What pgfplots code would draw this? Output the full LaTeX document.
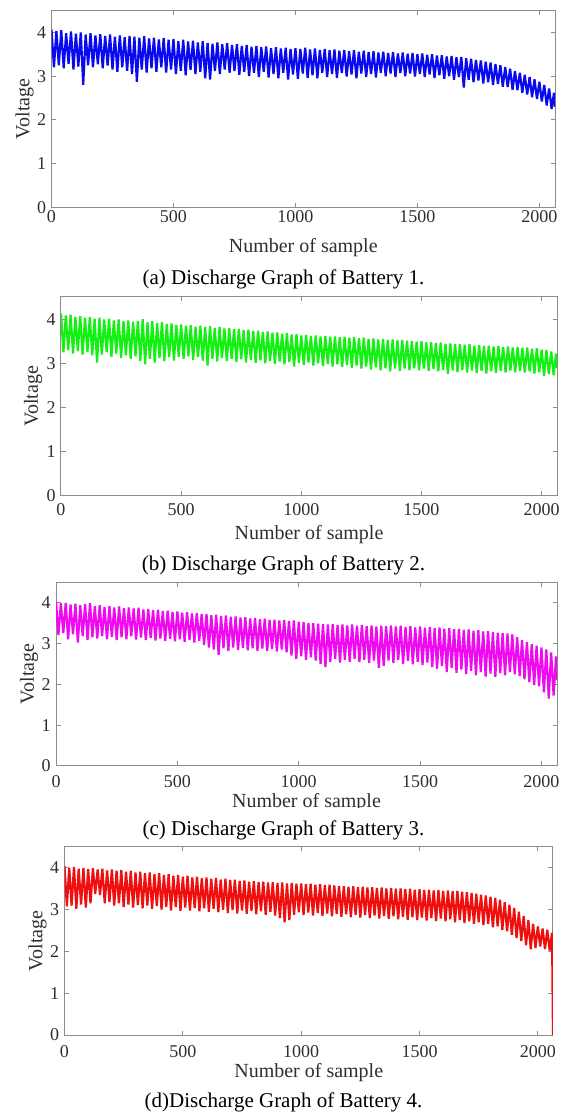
\documentclass[border=0pt]{standalone}
\usepackage{pgfplots}
\pgfplotsset{compat=1.18}
\usepackage{fontspec}
\setmainfont{Liberation Serif}
\definecolor{axgray}{gray}{0.55}
\definecolor{txtgray}{gray}{0.18}
\pgfplotsset{
  panel/.style={
    scale only axis,
    xmin=0, xmax=2064, ymin=0, ymax=4.5,
    xtick={0,500,1000,1500,2000},
    ytick={0,1,2,3,4},
    tick pos=both,
    tick align=inside,
    major tick length=2.25pt,
    axis line style={draw=axgray, line width=0.5pt},
    tick style={draw=axgray, line width=0.5pt},
    ticklabel style={font=\fontsize{9}{10}\selectfont, text=txtgray},
    yticklabel style={anchor=east, inner sep=0pt, xshift=-2.5pt},
    xticklabel style={anchor=center, inner sep=0pt},
    label style={font=\fontsize{10}{12}\selectfont, text=txtgray},
    xlabel={Number of sample},
    ylabel={Voltage},
    /pgf/number format/assume math mode=true,
    /pgf/number format/set thousands separator={},
    scaled ticks=false,
  },
  sig/.style={line width=1.1pt, line join=miter, miter limit=1.5}
}
\begin{document}
\begin{tikzpicture}
\path[use as bounding box] (0,0) rectangle (283.5pt,557.5pt);

% ---------- Panel (a) ----------
\begin{axis}[panel, at={(25.75pt,453.75pt)}, anchor=south west,
  width=251.75pt, height=98.5pt,
  xticklabel style={yshift=-4.75pt},
  xlabel style={at={(axis description cs:0.5,0)}, anchor=center, yshift=-20.25pt},
  ylabel style={at={(axis description cs:-0.0536,0.5)}, anchor=center}]
\addplot[sig, color={rgb,255:red,10;green,10;blue,240}] coordinates {
(0,4.07)(10,3.20)(20,4.03)(30,3.25)(40,4.05)(50,3.18)(60,3.98)(70,3.28)(80,4.02)(90,3.15)
(100,3.97)(110,3.22)(120,4.00)(130,2.80)(140,3.95)(150,3.25)(160,3.98)(170,3.20)(180,3.93)(190,3.27)
(200,3.96)(210,3.18)(220,3.92)(230,3.24)(240,3.95)(250,3.15)(260,3.90)(270,3.10)(280,3.93)(290,3.20)
(300,3.89)(310,3.12)(320,3.92)(330,3.05)(340,3.90)(350,2.87)(360,3.88)(370,3.15)(380,3.91)(390,3.08)
(400,3.86)(410,3.18)(420,3.88)(430,3.10)(440,3.84)(450,3.20)(460,3.87)(470,3.08)(480,3.83)(490,3.15)
(500,3.85)(510,3.05)(520,3.80)(530,3.12)(540,3.83)(550,3.02)(560,3.79)(570,3.14)(580,3.81)(590,3.05)
(600,3.77)(610,3.10)(620,3.80)(630,2.95)(640,3.76)(650,2.92)(660,3.74)(670,3.12)(680,3.77)(690,3.05)
(700,3.73)(710,3.15)(720,3.75)(730,3.08)(740,3.71)(750,3.12)(760,3.73)(770,3.03)(780,3.69)(790,3.10)
(800,3.71)(810,3.00)(820,3.67)(830,3.08)(840,3.69)(850,2.98)(860,3.66)(870,3.10)(880,3.68)(890,2.97)
(900,3.64)(910,3.05)(920,3.66)(930,2.95)(940,3.63)(950,3.08)(960,3.65)(970,2.92)(980,3.62)(990,3.04)
(1000,3.64)(1010,2.94)(1020,3.62)(1030,3.06)(1040,3.65)(1050,2.96)(1060,3.61)(1070,3.02)(1080,3.63)(1090,2.95)
(1100,3.60)(1110,3.08)(1120,3.62)(1130,2.98)(1140,3.59)(1150,3.05)(1160,3.61)(1170,2.96)(1180,3.58)(1190,3.07)
(1200,3.60)(1210,2.99)(1220,3.57)(1230,3.04)(1240,3.59)(1250,2.95)(1260,3.56)(1270,3.06)(1280,3.58)(1290,2.98)
(1300,3.55)(1310,3.05)(1320,3.57)(1330,2.97)(1340,3.54)(1350,3.08)(1360,3.56)(1370,3.00)(1380,3.53)(1390,3.06)
(1400,3.55)(1410,2.98)(1420,3.52)(1430,3.07)(1440,3.54)(1450,3.00)(1460,3.51)(1470,3.06)(1480,3.53)(1490,2.99)
(1500,3.50)(1510,3.05)(1520,3.52)(1530,2.98)(1540,3.49)(1550,3.04)(1560,3.50)(1570,2.96)(1580,3.47)(1590,3.02)
(1600,3.48)(1610,2.94)(1620,3.45)(1630,3.00)(1640,3.46)(1650,2.92)(1660,3.43)(1670,2.98)(1680,3.44)(1690,2.74)
(1700,3.41)(1710,2.92)(1720,3.40)(1730,2.86)(1740,3.37)(1750,2.90)(1760,3.36)(1770,2.83)(1780,3.33)(1790,2.86)
(1800,3.31)(1810,2.80)(1820,3.28)(1830,2.82)(1840,3.25)(1850,2.76)(1860,3.21)(1870,2.75)(1880,3.17)(1890,2.69)
(1900,3.12)(1910,2.68)(1920,3.08)(1930,2.62)(1940,3.03)(1950,2.58)(1960,2.98)(1970,2.52)(1980,2.93)(1990,2.48)
(2000,2.87)(2010,2.42)(2020,2.80)(2030,2.33)(2040,2.72)(2050,2.25)(2060,2.62)(2064,2.30)
};
\end{axis}

% ---------- Panel (b) ----------
\begin{axis}[panel, at={(30.5pt,309.5pt)}, anchor=south west,
  width=248pt, height=99.5pt,
  xticklabel style={yshift=-7pt},
  xlabel style={at={(axis description cs:0.5,0)}, anchor=center, yshift=-19.5pt},
  ylabel style={at={(axis description cs:-0.0565,0.5)}, anchor=center}]
\addplot[sig, color={rgb,255:red,20;green,240;blue,20}] coordinates {
(0,4.12)(10,3.25)(20,4.08)(30,3.30)(40,4.10)(50,3.22)(60,4.05)(70,3.28)(80,4.07)(90,3.20)
(100,4.03)(110,3.26)(120,4.05)(130,3.18)(140,4.01)(150,3.02)(160,4.03)(170,3.20)(180,3.99)(190,3.25)
(200,4.01)(210,3.15)(220,3.97)(230,3.22)(240,3.99)(250,3.12)(260,3.95)(270,3.18)(280,3.97)(290,3.10)
(300,3.94)(310,3.16)(320,3.96)(330,3.05)(340,4.00)(350,2.98)(360,3.93)(370,3.10)(380,3.95)(390,3.02)
(400,3.91)(410,3.12)(420,3.93)(430,3.05)(440,3.89)(450,3.14)(460,3.90)(470,3.06)(480,3.87)(490,3.15)
(500,3.88)(510,3.10)(520,3.85)(530,3.16)(540,3.86)(550,3.08)(560,3.83)(570,3.14)(580,3.85)(590,3.06)
(600,3.82)(610,2.95)(620,3.84)(630,3.10)(640,3.80)(650,3.04)(660,3.82)(670,3.12)(680,3.79)(690,3.05)
(700,3.80)(710,3.10)(720,3.77)(730,3.03)(740,3.78)(750,3.09)(760,3.75)(770,3.02)(780,3.76)(790,3.08)
(800,3.73)(810,3.01)(820,3.74)(830,3.07)(840,3.71)(850,3.00)(860,3.72)(870,3.06)(880,3.69)(890,2.99)
(900,3.70)(910,3.04)(920,3.67)(930,2.98)(940,3.68)(950,3.03)(960,3.65)(970,2.93)(980,3.66)(990,3.01)
(1000,3.63)(1010,2.96)(1020,3.64)(1030,3.02)(1040,3.62)(1050,2.95)(1060,3.63)(1070,3.00)(1080,3.61)(1090,2.94)
(1100,3.62)(1110,2.99)(1120,3.60)(1130,2.93)(1140,3.61)(1150,2.98)(1160,3.59)(1170,2.92)(1180,3.60)(1190,2.96)
(1200,3.58)(1210,2.90)(1220,3.59)(1230,2.95)(1240,3.57)(1250,2.88)(1260,3.58)(1270,2.93)(1280,3.55)(1290,2.86)
(1300,3.56)(1310,2.91)(1320,3.54)(1330,2.84)(1340,3.55)(1350,2.89)(1360,3.53)(1370,2.82)(1380,3.54)(1390,2.88)
(1400,3.52)(1410,2.83)(1420,3.53)(1430,2.88)(1440,3.51)(1450,2.84)(1460,3.50)(1470,2.89)(1480,3.49)(1490,2.84)
(1500,3.50)(1510,2.88)(1520,3.47)(1530,2.83)(1540,3.48)(1550,2.87)(1560,3.46)(1570,2.82)(1580,3.47)(1590,2.85)
(1600,3.44)(1610,2.76)(1620,3.45)(1630,2.84)(1640,3.43)(1650,2.80)(1660,3.44)(1670,2.85)(1680,3.42)(1690,2.79)
(1700,3.43)(1710,2.84)(1720,3.40)(1730,2.78)(1740,3.41)(1750,2.83)(1760,3.39)(1770,2.77)(1780,3.40)(1790,2.82)
(1800,3.38)(1810,2.78)(1820,3.39)(1830,2.83)(1840,3.37)(1850,2.79)(1860,3.38)(1870,2.84)(1880,3.36)(1890,2.80)
(1900,3.37)(1910,2.83)(1920,3.35)(1930,2.79)(1940,3.36)(1950,2.82)(1960,3.33)(1970,2.77)(1980,3.34)(1990,2.80)
(2000,3.31)(2010,2.72)(2020,3.30)(2030,2.76)(2040,3.27)(2050,2.73)(2060,3.22)(2064,2.90)
};
\end{axis}

% ---------- Panel (c) ----------
\begin{axis}[panel, at={(28pt,174.5pt)}, anchor=south west,
  width=250.5pt, height=92pt,
  xticklabel style={yshift=-8pt},
  xlabel style={at={(axis description cs:0.5,0)}, anchor=center, yshift=-18.5pt},
  ylabel style={at={(axis description cs:-0.0539,0.5)}, anchor=center}]
\addplot[sig, color={rgb,255:red,240;green,10;blue,240}] coordinates {
(0,4.02)(10,3.20)(20,3.98)(30,3.25)(40,3.99)(50,3.10)(60,3.95)(70,3.22)(80,3.97)(90,3.02)
(100,3.93)(110,3.18)(120,3.96)(130,3.08)(140,3.99)(150,3.15)(160,3.91)(170,3.12)(180,3.93)(190,3.18)
(200,3.89)(210,3.10)(220,3.91)(230,3.16)(240,3.88)(250,3.08)(260,3.90)(270,3.15)(280,3.86)(290,3.10)
(300,3.88)(310,3.17)(320,3.85)(330,3.09)(340,3.87)(350,3.14)(360,3.83)(370,3.08)(380,3.84)(390,3.13)
(400,3.81)(410,3.07)(420,3.82)(430,3.12)(440,3.79)(450,3.06)(460,3.80)(470,3.11)(480,3.77)(490,3.05)
(500,3.78)(510,3.10)(520,3.75)(530,3.04)(540,3.76)(550,3.08)(560,3.73)(570,3.02)(580,3.74)(590,3.06)
(600,3.71)(610,2.96)(620,3.72)(630,2.90)(640,3.69)(650,2.85)(660,3.70)(670,2.72)(680,3.67)(690,2.88)
(700,3.68)(710,2.82)(720,3.65)(730,2.90)(740,3.66)(750,2.84)(760,3.63)(770,2.89)(780,3.64)(790,2.83)
(800,3.61)(810,2.88)(820,3.62)(830,2.82)(840,3.59)(850,2.87)(860,3.60)(870,2.81)(880,3.57)(890,2.86)
(900,3.58)(910,2.80)(920,3.56)(930,2.85)(940,3.57)(950,2.78)(960,3.55)(970,2.70)(980,3.56)(990,2.62)
(1000,3.53)(1010,2.68)(1020,3.52)(1030,2.60)(1040,3.50)(1050,2.66)(1060,3.49)(1070,2.58)(1080,3.48)(1090,2.50)
(1100,3.47)(1110,2.42)(1120,3.46)(1130,2.55)(1140,3.47)(1150,2.62)(1160,3.45)(1170,2.53)(1180,3.46)(1190,2.60)
(1200,3.44)(1210,2.55)(1220,3.46)(1230,2.62)(1240,3.43)(1250,2.54)(1260,3.45)(1270,2.60)(1280,3.42)(1290,2.52)
(1300,3.44)(1310,2.58)(1320,3.41)(1330,2.40)(1340,3.43)(1350,2.45)(1360,3.42)(1370,2.58)(1380,3.44)(1390,2.52)
(1400,3.41)(1410,2.60)(1420,3.43)(1430,2.50)(1440,3.40)(1450,2.57)(1460,3.42)(1470,2.49)(1480,3.39)(1490,2.55)
(1500,3.41)(1510,2.47)(1520,3.38)(1530,2.53)(1540,3.40)(1550,2.42)(1560,3.37)(1570,2.38)(1580,3.39)(1590,2.45)
(1600,3.36)(1610,2.30)(1620,3.37)(1630,2.40)(1640,3.35)(1650,2.28)(1660,3.36)(1670,2.36)(1680,3.33)(1690,2.25)
(1700,3.34)(1710,2.33)(1720,3.31)(1730,2.22)(1740,3.32)(1750,2.30)(1760,3.29)(1770,2.19)(1780,3.30)(1790,2.26)
(1800,3.27)(1810,2.18)(1820,3.26)(1830,2.27)(1840,3.25)(1850,2.22)(1860,3.24)(1870,2.30)(1880,3.22)(1890,2.24)
(1900,3.15)(1910,2.20)(1920,3.08)(1930,2.12)(1940,3.03)(1950,2.05)(1960,2.98)(1970,1.98)(1980,2.94)(1990,1.95)
(2000,2.90)(2010,1.80)(2020,2.85)(2030,1.65)(2040,2.78)(2050,1.72)(2060,2.68)(2064,2.10)
};
\end{axis}

% ---------- Panel (d) ----------
\begin{axis}[panel, at={(32.25pt,40pt)}, anchor=south west,
  width=244.25pt, height=94pt,
  xticklabel style={yshift=-8.5pt},
  xlabel style={at={(axis description cs:0.5,0)}, anchor=center, yshift=-19pt},
  ylabel style={at={(axis description cs:-0.0553,0.5)}, anchor=center}]
\addplot[sig, color={rgb,255:red,240;green,15;blue,15}] coordinates {
(0,4.05)(10,3.08)(20,4.00)(30,3.10)(40,4.02)(50,3.02)(60,3.98)(70,3.12)(80,4.00)(90,3.05)
(100,3.97)(110,3.15)(120,3.99)(130,3.38)(140,3.96)(150,3.35)(160,3.98)(170,3.15)(180,3.94)(190,3.18)
(200,3.96)(210,3.10)(220,3.93)(230,3.15)(240,3.95)(250,3.06)(260,3.91)(270,3.12)(280,3.93)(290,3.05)
(300,3.89)(310,3.11)(320,3.91)(330,3.03)(340,3.87)(350,3.10)(360,3.89)(370,3.02)(380,3.85)(390,3.09)
(400,3.87)(410,3.00)(420,3.83)(430,3.07)(440,3.85)(450,2.98)(460,3.81)(470,3.06)(480,3.83)(490,2.97)
(500,3.79)(510,3.05)(520,3.81)(530,2.98)(540,3.77)(550,3.04)(560,3.79)(570,2.96)(580,3.75)(590,3.03)
(600,3.77)(610,2.95)(620,3.74)(630,3.02)(640,3.76)(650,2.94)(660,3.72)(670,3.00)(680,3.74)(690,2.92)
(700,3.71)(710,2.99)(720,3.72)(730,2.91)(740,3.69)(750,2.98)(760,3.70)(770,2.90)(780,3.67)(790,2.97)
(800,3.68)(810,2.89)(820,3.66)(830,2.96)(840,3.67)(850,2.88)(860,3.65)(870,2.95)(880,3.66)(890,2.86)
(900,3.64)(910,2.80)(920,3.65)(930,2.70)(940,3.63)(950,2.75)(960,3.64)(970,2.88)(980,3.62)(990,2.94)
(1000,3.63)(1010,2.87)(1020,3.61)(1030,2.93)(1040,3.62)(1050,2.86)(1060,3.60)(1070,2.92)(1080,3.61)(1090,2.85)
(1100,3.59)(1110,2.91)(1120,3.60)(1130,2.84)(1140,3.58)(1150,2.90)(1160,3.57)(1170,2.83)(1180,3.56)(1190,2.89)
(1200,3.55)(1210,2.82)(1220,3.56)(1230,2.88)(1240,3.54)(1250,2.81)(1260,3.55)(1270,2.87)(1280,3.53)(1290,2.80)
(1300,3.54)(1310,2.86)(1320,3.52)(1330,2.79)(1340,3.53)(1350,2.85)(1360,3.51)(1370,2.78)(1380,3.52)(1390,2.84)
(1400,3.50)(1410,2.77)(1420,3.51)(1430,2.83)(1440,3.49)(1450,2.76)(1460,3.50)(1470,2.82)(1480,3.48)(1490,2.75)
(1500,3.49)(1510,2.81)(1520,3.47)(1530,2.74)(1540,3.48)(1550,2.80)(1560,3.46)(1570,2.73)(1580,3.47)(1590,2.79)
(1600,3.45)(1610,2.72)(1620,3.46)(1630,2.77)(1640,3.44)(1650,2.70)(1660,3.45)(1670,2.75)(1680,3.43)(1690,2.68)
(1700,3.42)(1710,2.72)(1720,3.40)(1730,2.66)(1740,3.38)(1750,2.70)(1760,3.36)(1770,2.63)(1780,3.34)(1790,2.66)
(1800,3.31)(1810,2.58)(1820,3.28)(1830,2.60)(1840,3.24)(1850,2.52)(1860,3.18)(1870,2.48)(1880,3.12)(1890,2.40)
(1900,3.04)(1910,2.32)(1920,2.95)(1930,2.25)(1940,2.85)(1950,2.15)(1960,2.75)(1970,2.05)(1980,2.66)(1990,2.08)
(2000,2.60)(2010,2.12)(2020,2.55)(2030,2.06)(2040,2.52)(2050,2.02)(2060,2.45)(2064,0)
};
\end{axis}

% clipped x label of panel (c)
\fill[white] (90pt,146pt) rectangle (200pt,153.5pt);

% captions
\node[font=\fontsize{10.5}{12}\selectfont, anchor=center] at (141.75pt,418pt) {(a) Discharge Graph of Battery 1.};
\node[font=\fontsize{10.5}{12}\selectfont, anchor=center] at (141.75pt,275pt) {(b) Discharge Graph of Battery 2.};
\node[font=\fontsize{10.5}{12}\selectfont, anchor=center] at (141.75pt,142.5pt) {(c) Discharge Graph of Battery 3.};
\node[font=\fontsize{10.5}{12}\selectfont, anchor=center] at (141.75pt,6.5pt) {(d)Discharge Graph of Battery 4.};
\end{tikzpicture}
\end{document}
